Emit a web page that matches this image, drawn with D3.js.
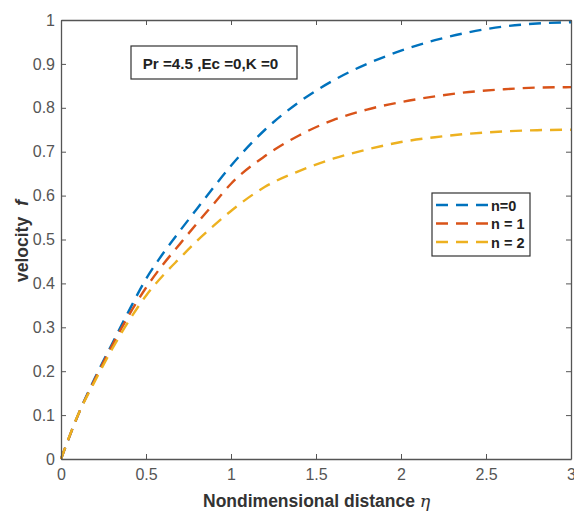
<!DOCTYPE html>
<html>
<head>
<meta charset="utf-8">
<script src="https://cdn.jsdelivr.net/npm/d3@7"></script>
<style>
  body { margin: 0; background: #fff; }
  svg { display: block; font-family: "Liberation Sans", Arial, sans-serif; }
</style>
</head>
<body>
<svg id="chart" width="574" height="512"></svg>
<script>
const eta = [0,0.1,0.2,0.3,0.4,0.5,0.6,0.7,0.8,0.9,1.0,1.2,1.4,1.6,1.8,2.0,2.2,2.4,2.6,2.8,3.0];
const fN0 = [0,0.10,0.185,0.262,0.338,0.41,0.468,0.52,0.57,0.62,0.668,0.75,0.813,0.862,0.90,0.93,0.954,0.972,0.985,0.992,0.995];
const fN1 = [0,0.10,0.182,0.258,0.328,0.39,0.443,0.49,0.537,0.582,0.627,0.69,0.737,0.772,0.796,0.813,0.826,0.836,0.842,0.846,0.847];
const fN2 = [0,0.10,0.178,0.25,0.315,0.372,0.418,0.458,0.497,0.532,0.565,0.62,0.656,0.684,0.705,0.722,0.733,0.741,0.746,0.749,0.75];
const seriesNames = ["n=0", "n = 1", "n = 2"];
const seriesColors = ["#0072BD", "#D95319", "#EDB120"];
const xTicks = [0,0.5,1,1.5,2,2.5,3];
const yTicks = [0,0.1,0.2,0.3,0.4,0.5,0.6,0.7,0.8,0.9,1];
const annotation = "Pr =4.5 ,Ec =0,K =0";

const svg = d3.select("#chart");
const m = {left: 61, right: 571, top: 20, bottom: 459};
const x = d3.scaleLinear().domain([0,3]).range([m.left, m.right]);
const y = d3.scaleLinear().domain([0,1]).range([m.bottom, m.top]);
const axisColor = "#555";
const labelColor = "#555";

// curves
const series = [fN0, fN1, fN2];
const line = d3.line().x(d => x(d[0])).y(d => y(d[1])).curve(d3.curveMonotoneX);
series.forEach((vals, i) => {
  svg.append("path")
    .datum(eta.map((e, j) => [e, vals[j]]))
    .attr("d", line)
    .attr("fill", "none")
    .attr("stroke", seriesColors[i])
    .attr("stroke-width", 2.4)
    .attr("stroke-dasharray", "12,8");
});

// axes
const fmt = d => d3.format("~g")(d);
const gx = svg.append("g").attr("transform", `translate(0,${m.bottom})`)
  .call(d3.axisBottom(x).tickValues(xTicks).tickFormat(fmt).tickSizeInner(-5).tickSizeOuter(0).tickPadding(10));
const gxt = svg.append("g").attr("transform", `translate(0,${m.top})`)
  .call(d3.axisTop(x).tickValues(xTicks).tickFormat("").tickSizeInner(-5).tickSizeOuter(0));
const gy = svg.append("g").attr("transform", `translate(${m.left},0)`)
  .call(d3.axisLeft(y).tickValues(yTicks).tickFormat(fmt).tickSizeInner(-5).tickSizeOuter(0).tickPadding(6));
const gyr = svg.append("g").attr("transform", `translate(${m.right},0)`)
  .call(d3.axisRight(y).tickValues(yTicks).tickFormat("").tickSizeInner(-5).tickSizeOuter(0));
[gx, gxt, gy, gyr].forEach(g => {
  g.select(".domain").attr("stroke", axisColor).attr("stroke-width", 1.3);
  g.selectAll(".tick line").attr("stroke", axisColor);
  g.selectAll(".tick text").attr("fill", labelColor).style("font-size", "16px")
    .style("font-family", "'Liberation Sans', Arial, sans-serif");
});

// axis labels
const xl = svg.append("text").attr("x", 203).attr("y", 507)
  .attr("text-anchor", "start").attr("fill", "#333")
  .style("font-size", "17.5px").style("font-weight", "bold");
xl.append("tspan").text("Nondimensional distance ");
xl.append("tspan").text("η").style("font-style", "italic").style("font-weight", "normal")
  .style("font-family", "'DejaVu Serif', serif");

const yl = svg.append("text").attr("transform", `translate(28,282) rotate(-90)`)
  .attr("text-anchor", "start").attr("fill", "#333")
  .style("font-size", "17.5px").style("font-weight", "bold");
yl.append("tspan").text("velocity");
yl.append("tspan").attr("dx", 11).text("f").style("font-style", "italic");

// annotation box
svg.append("rect").attr("x", 131).attr("y", 46).attr("width", 166).attr("height", 33)
  .attr("fill", "#fff").attr("stroke", "#333").attr("stroke-width", 1.2);
svg.append("text").attr("x", 210.5).attr("y", 68.5).attr("text-anchor", "middle")
  .attr("fill", "#222").style("font-size", "15.2px").style("font-weight", "bold").text(annotation);

// legend
const lg = svg.append("g");
lg.append("rect").attr("x", 432).attr("y", 193).attr("width", 98).attr("height", 63)
  .attr("fill", "#fff").attr("stroke", "#333").attr("stroke-width", 1.2);
seriesNames.forEach((name, i) => {
  const yy = 205 + i * 18.5;
  lg.append("line").attr("x1", 436).attr("x2", 488).attr("y1", yy).attr("y2", yy)
    .attr("stroke", seriesColors[i]).attr("stroke-width", 2.4).attr("stroke-dasharray", "12,8");
  lg.append("text").attr("x", 491).attr("y", yy + 5.5).attr("fill", "#222")
    .style("font-size", "14.5px").style("font-weight", "bold").text(name);
});
</script>
</body>
</html>
